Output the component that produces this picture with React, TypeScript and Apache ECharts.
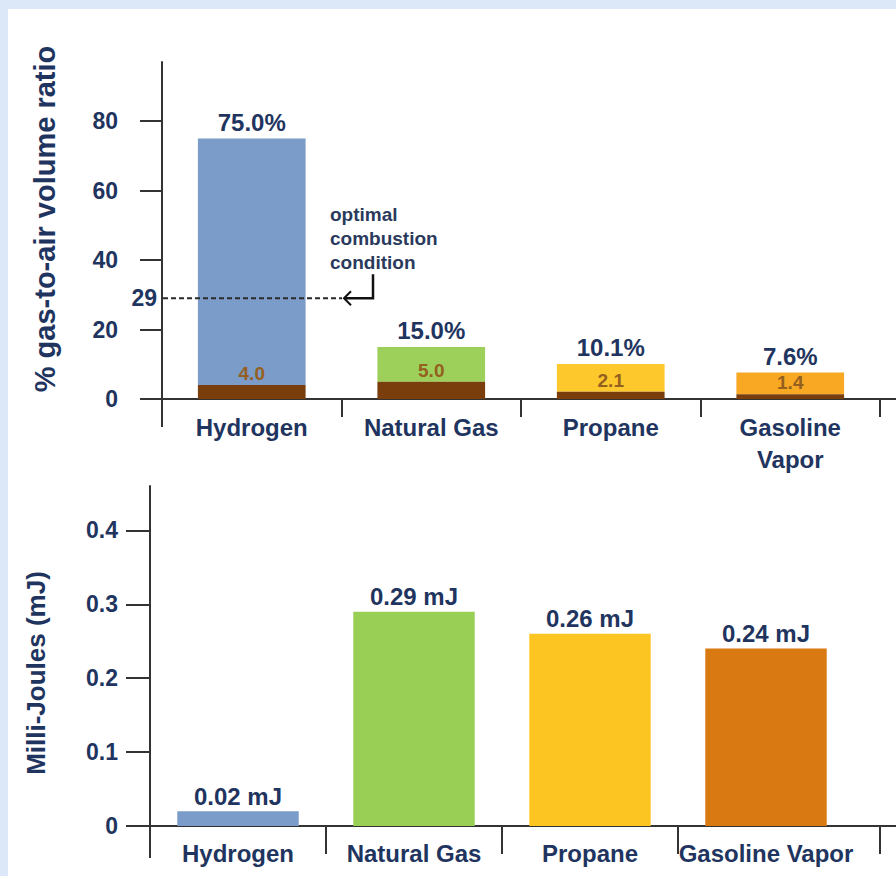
import React, { useEffect, useRef } from "react";
import * as echarts from "echarts";

const categories = ["Hydrogen", "Natural Gas", "Propane", "Gasoline Vapor"];
const lowerLimits = [4.0, 5.0, 2.1, 1.4];
const upperLimits = [75.0, 15.0, 10.1, 7.6];
const ignitionEnergy = [0.02, 0.29, 0.26, 0.24];
const topTicks = [0, 20, 40, 60, 80];
const bottomTicks = [0, 0.1, 0.2, 0.3, 0.4];
const optimalRatio = 29;
const upperColors = ["#7b9bc8", "#9dd05a", "#fdc82c", "#f9a824"];
const energyColors = ["#7b9bc8", "#99cf55", "#fcc522", "#d97912"];
const lowerColor = "#7a3e0c";
const topAxisName = "% gas-to-air volume ratio";
const bottomAxisName = "Milli-Joules (mJ)";
const noteText = "optimal\ncombustion\ncondition";

const NAVY = "#1f3560";
const AXIS = "#333333";
const FONT = "Liberation Sans, Arial, Helvetica, sans-serif";

export default function App() {
  const ref = useRef<HTMLDivElement>(null);

  useEffect(() => {
    if (!ref.current) return;
    const chart = echarts.init(ref.current, undefined, { renderer: "svg" });

    const axisLineStyle = { color: AXIS, width: 2 };
    const labelBase = { color: NAVY, fontWeight: "bold" as const, fontFamily: FONT };

    const option: any = {
      animation: false,
      backgroundColor: "transparent",
      textStyle: { fontFamily: FONT },
      grid: [
        { left: 162, top: 62, width: 718, height: 337 },
        { left: 150, top: 486, width: 704, height: 340 },
      ],
      xAxis: [
        {
          type: "category",
          gridIndex: 0,
          data: categories,
          axisLine: { lineStyle: axisLineStyle },
          axisTick: { show: true, length: 18, interval: 0, lineStyle: axisLineStyle },
          axisLabel: {
            ...labelBase,
            fontSize: 24,
            margin: 12,
            lineHeight: 32,
            interval: 0,
            formatter: (v: string) => v.replace(" Vapor", "\nVapor"),
          },
        },
        {
          type: "category",
          gridIndex: 1,
          data: categories,
          axisLine: { lineStyle: axisLineStyle },
          axisTick: { show: false },
          axisLabel: { ...labelBase, fontSize: 24, margin: 15, interval: 0 },
        },
      ],
      yAxis: [
        {
          type: "value",
          gridIndex: 0,
          min: 0,
          max: 97,
          axisLine: { show: true, lineStyle: axisLineStyle },
          axisTick: { show: true, length: 22, lineStyle: axisLineStyle, customValues: topTicks },
          axisLabel: { ...labelBase, fontSize: 23, margin: 44, customValues: topTicks },
          splitLine: { show: false },
        },
        {
          type: "value",
          gridIndex: 1,
          min: 0,
          max: 0.46,
          axisLine: { show: true, lineStyle: axisLineStyle },
          axisTick: { show: true, length: 24, lineStyle: axisLineStyle, customValues: bottomTicks },
          axisLabel: {
            ...labelBase,
            fontSize: 23,
            margin: 32,
            customValues: bottomTicks,
            formatter: (v: number) => (v === 0 ? "0" : v.toFixed(1)),
          },
          splitLine: { show: false },
        },
      ],
      series: [
        {
          name: "Lower flammability limit",
          type: "bar",
          xAxisIndex: 0,
          yAxisIndex: 0,
          stack: "range",
          barWidth: "60%",
          data: lowerLimits,
          itemStyle: { color: lowerColor },
          label: {
            show: true,
            position: "top",
            distance: 2,
            fontSize: 19,
            fontWeight: "bold",
            fontFamily: FONT,
            color: "#94601f",
            formatter: (p: any) => lowerLimits[p.dataIndex].toFixed(1),
          },
          z: 3,
        },
        {
          name: "Upper flammability limit",
          type: "bar",
          xAxisIndex: 0,
          yAxisIndex: 0,
          stack: "range",
          barWidth: "60%",
          data: upperLimits.map((u, i) => +(u - lowerLimits[i]).toFixed(2)),
          itemStyle: { color: (p: any) => upperColors[p.dataIndex] },
          label: {
            show: true,
            position: "top",
            distance: 4,
            ...labelBase,
            fontSize: 24,
            formatter: (p: any) => upperLimits[p.dataIndex].toFixed(1) + "%",
          },
          z: 2,
        },
        {
          name: "Minimum ignition energy",
          type: "bar",
          xAxisIndex: 1,
          yAxisIndex: 1,
          barWidth: "69%",
          data: ignitionEnergy,
          itemStyle: { color: (p: any) => energyColors[p.dataIndex] },
          label: {
            show: true,
            position: "top",
            distance: 3,
            ...labelBase,
            fontSize: 24,
            formatter: (p: any) => ignitionEnergy[p.dataIndex].toFixed(2) + " mJ",
          },
        },
      ],
    };

    chart.setOption(option);

    const y29 = chart.convertToPixel({ yAxisIndex: 0 }, optimalRatio) as number;
    const xAxisTopY = chart.convertToPixel({ yAxisIndex: 0 }, 0) as number;
    const xAxisBotY = chart.convertToPixel({ yAxisIndex: 1 }, 0) as number;

    // bottom category ticks at band boundaries (last one sits further right, as in the source)
    const centers = categories.map((_, i) => chart.convertToPixel({ xAxisIndex: 1 }, i) as number);
    const half = (centers[1] - centers[0]) / 2;
    const boundaries = [
      centers[0] - half,
      ...centers.slice(0, -1).map((c, i) => (c + centers[i + 1]) / 2),
      880,
    ];
    const bottomTickLines = boundaries.map((bx, i) => ({
      type: "line",
      shape: { x1: bx, y1: xAxisBotY, x2: bx, y2: xAxisBotY + (i === 0 ? 32 : 28) },
      style: { stroke: AXIS, lineWidth: 2 },
    }));

    chart.setOption({
      graphic: [
        {
          type: "line",
          shape: { x1: 163, y1: y29, x2: 342, y2: y29 },
          style: { stroke: "#2a2a2a", lineWidth: 2, lineDash: [5, 3] },
          z: 10,
        },
        {
          type: "polyline",
          shape: { points: [[351, y29 - 7], [344, y29], [351, y29 + 7]] },
          style: { stroke: "#111", lineWidth: 2, fill: "none" },
          z: 10,
        },
        {
          type: "polyline",
          shape: { points: [[344, y29], [373, y29], [373, y29 - 24]] },
          style: { stroke: "#111", lineWidth: 2.5, fill: "none" },
          z: 10,
        },
        {
          type: "text",
          x: 157,
          y: y29,
          style: {
            text: String(optimalRatio),
            align: "right",
            verticalAlign: "middle",
            fill: NAVY,
            font: `bold 23px ${FONT}`,
          },
          z: 10,
        },
        {
          type: "text",
          x: 330,
          y: 202,
          style: {
            text: noteText,
            align: "left",
            verticalAlign: "top",
            fill: "#2a3a5c",
            font: `bold 19px ${FONT}`,
            lineHeight: 24,
          },
          z: 10,
        },
        {
          type: "text",
          x: 45,
          y: 219,
          rotation: Math.PI / 2,
          style: {
            text: topAxisName,
            align: "center",
            verticalAlign: "middle",
            fill: NAVY,
            font: `bold 29px ${FONT}`,
          },
        },
        {
          type: "text",
          x: 36,
          y: 673,
          rotation: Math.PI / 2,
          style: {
            text: bottomAxisName,
            align: "center",
            verticalAlign: "middle",
            fill: NAVY,
            font: `bold 26px ${FONT}`,
          },
        },
        {
          type: "line",
          shape: { x1: 162, y1: xAxisTopY, x2: 162, y2: xAxisTopY + 28 },
          style: { stroke: AXIS, lineWidth: 2 },
        },
        {
          type: "line",
          shape: { x1: 880, y1: xAxisTopY, x2: 896, y2: xAxisTopY },
          style: { stroke: AXIS, lineWidth: 2 },
        },
        {
          type: "line",
          shape: { x1: 854, y1: xAxisBotY, x2: 896, y2: xAxisBotY },
          style: { stroke: AXIS, lineWidth: 2 },
        },
        ...bottomTickLines,
      ],
    });

    return () => chart.dispose();
  }, []);

  return (
    <div
      style={{
        position: "fixed",
        left: 0,
        top: 0,
        width: 896,
        height: 876,
        background: "#dce7f7",
        overflow: "hidden",
      }}
    >
      <div
        style={{
          position: "absolute",
          left: 8,
          top: 9,
          right: 0,
          bottom: 0,
          background: "#ffffff",
        }}
      />
      <div ref={ref} style={{ position: "absolute", left: 0, top: 0, width: 896, height: 876 }} />
    </div>
  );
}
